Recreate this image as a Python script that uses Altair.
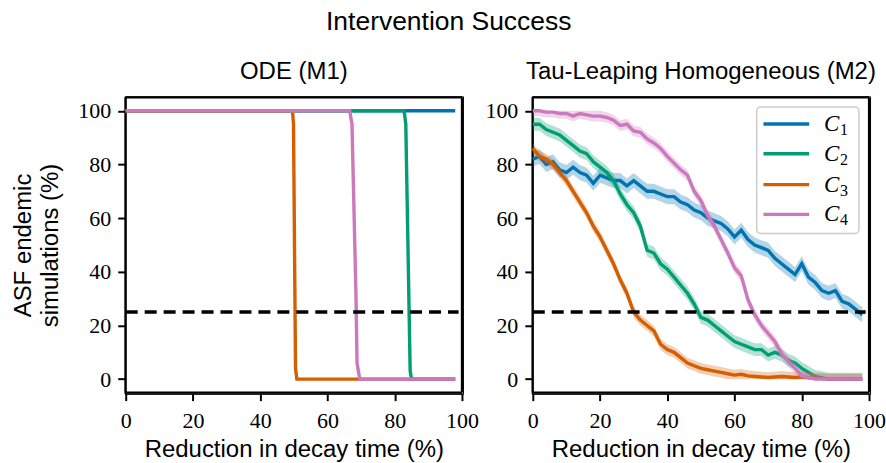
import altair as alt
import pandas as pd

# ---------------- data ----------------
SERIES = ["C₁", "C₂", "C₃", "C₄"]
SERIES_LETTER = ["C", "C", "C", "C"]
SERIES_SUB = ["1", "2", "3", "4"]
COLORS = ["#0173b2", "#029e73", "#d55e00", "#cc78bc"]

X_TICKS = [0, 20, 40, 60, 80, 100]
Y_TICKS = [0, 20, 40, 60, 80, 100]
THRESHOLD = 25

# ODE (M1): breakpoints of each curve
ODE_C1_X = [0, 98]
ODE_C1_Y = [100, 100]
ODE_C2_X = [0, 82.8, 83.3, 84.6, 85.0, 98]
ODE_C2_Y = [100, 100, 95, 3, 0, 0]
ODE_C3_X = [0, 49.6, 49.9, 50.5, 50.9, 98]
ODE_C3_Y = [100, 100, 95, 4, 0, 0]
ODE_C4_X = [0, 66.6, 67.3, 68.5, 68.8, 69.6, 98]
ODE_C4_Y = [100, 100, 95, 30, 6, 0, 0]

# Tau-Leaping Homogeneous (M2)
TAU_X = list(range(0, 99, 2))
TAU_C1 = [82, 83, 80, 81, 78, 77, 79, 77, 76, 73,
          76, 75, 74, 74, 72, 74, 72, 70, 70, 69,
          68, 68, 66, 65, 63, 62, 60, 59, 58, 56,
          53, 55.5, 52, 50, 49, 48, 45, 43, 41, 39,
          43, 38, 36, 33, 32, 33, 29, 28, 26, 24]
TAU_C2 = [95, 95, 93, 92, 91, 89, 87, 85, 84, 81,
          79, 77, 74, 69, 65, 62, 57, 48, 47, 43,
          41, 38, 35, 32, 28, 23, 22, 20, 18, 16,
          14, 13, 12, 11, 11, 9, 10, 9, 7, 6,
          4, 2.5, 1, 0.5, 0, 0, 0, 0, 0, 0]
TAU_C3 = [86, 83, 82, 80, 77, 74, 70, 66, 62, 57,
          53, 48, 43, 37, 32, 25, 22, 20, 18, 13,
          11, 10, 8, 6, 5, 4, 3.5, 3, 2.5, 2,
          1.5, 1.8, 1.2, 1, 0.8, 0.6, 0.8, 1, 0.8, 0.6,
          0.8, 0.5, 0.4, 0.2, 0, 0, 0, 0, 0, 0]
TAU_C4 = [100, 100, 99.5, 99.5, 99, 99, 98, 99, 98.5, 98,
          98, 97.5, 96.5, 94.5, 95, 92.5, 92, 89.5, 88, 86,
          83, 80.5, 78, 76, 70, 66.5, 61, 57, 52, 47,
          41.5, 38.5, 29.5, 24, 20, 17, 14, 9.5, 6.5, 4,
          1.2, 0.6, 0, 0, 0, 0, 0, 0, 0, 0]
BAND_HALF = [2.8, 2.4, 2.0, 2.0]   # half-width of the confidence band

# ---------------- layout constants (data coordinates) ----------------
X_DOMAIN = [-0.3, 100.3]
Y_DOMAIN = [-5.4, 105.4]
FRAME_X = [0, 100]
FRAME_Y = [-5, 105]
LEG_BOX_X = [66.6, 97.0]
LEG_BOX_Y = [54.3, 101.4]
LEG_ROW_Y = [95.1, 84.0, 72.5, 61.4]
LEG_LINE_X = [68.6, 82.2]
LEG_TEXT_X = 86.6

# ---------------- tables ----------------
ode_rows = []
for name, xs, ys in zip(SERIES, [ODE_C1_X, ODE_C2_X, ODE_C3_X, ODE_C4_X],
                        [ODE_C1_Y, ODE_C2_Y, ODE_C3_Y, ODE_C4_Y]):
    for x, y in zip(xs, ys):
        ode_rows.append({"series": name, "x": x, "y": y})
ode_df = pd.DataFrame(ode_rows)

tau_rows = []
for name, ys, h in zip(SERIES, [TAU_C1, TAU_C2, TAU_C3, TAU_C4], BAND_HALF):
    for x, y in zip(TAU_X, ys):
        tau_rows.append({"series": name, "x": x, "y": y,
                         "lo": max(y - h, 0), "hi": min(y + h, 100)})
tau_df = pd.DataFrame(tau_rows)

thr_df = pd.DataFrame({"x": [0], "x2": [99], "y": [THRESHOLD]})
# horizontal frame edges (top, bottom) and vertical ones (left, right)
hframe_df = pd.DataFrame({"fx": [FRAME_X[0]] * 2, "fx2": [FRAME_X[1]] * 2,
                          "fy": [FRAME_Y[1], FRAME_Y[0]]})
vframe_df = pd.DataFrame({"fx": [FRAME_X[0], FRAME_X[1]],
                          "fy": [FRAME_Y[0]] * 2, "fy2": [FRAME_Y[1]] * 2})
leg_box_df = pd.DataFrame({"x": [LEG_BOX_X[0]], "x2": [LEG_BOX_X[1]],
                           "y": [LEG_BOX_Y[0]], "y2": [LEG_BOX_Y[1]]})
leg_df = pd.DataFrame({"series": SERIES, "letter": SERIES_LETTER,
                       "sub": SERIES_SUB, "y": LEG_ROW_Y,
                       "x": [LEG_LINE_X[0]] * 4, "x2": [LEG_LINE_X[1]] * 4,
                       "tx": [LEG_TEXT_X] * 4})

# ---------------- styling ----------------
SANS = "Liberation Sans"
SERIF = "Liberation Serif"
LW = 3.4

x_scale = alt.Scale(domain=X_DOMAIN, nice=False, zero=False)
y_scale = alt.Scale(domain=Y_DOMAIN, nice=False, zero=False)
color_scale = alt.Scale(domain=SERIES, range=COLORS)

x_axis = alt.Axis(values=X_TICKS, title="Reduction in decay time (%)",
                  labelPadding=10, titlePadding=6)
y_axis_left = alt.Axis(values=Y_TICKS, title=["ASF endemic", "simulations (%)"],
                       labelPadding=7, titlePadding=15, titleLineHeight=27)
y_axis_right = alt.Axis(values=Y_TICKS, title=None, labelPadding=7)


def X(field):
    return alt.X(field, type="quantitative", scale=x_scale, axis=x_axis)


def Y(field, yaxis):
    return alt.Y(field, type="quantitative", scale=y_scale, axis=yaxis)


def thr_layer(yaxis):
    return alt.Chart(thr_df).mark_rule(
        color="black", strokeWidth=3.4, strokeDash=[12, 7]
    ).encode(x=X("x"), x2="x2:Q", y=Y("y", yaxis))


def frame_layers(yaxis):
    h = alt.Chart(hframe_df).mark_rule(color="black", strokeWidth=2.2).encode(
        x=X("fx"), x2="fx2:Q", y=Y("fy", yaxis))
    v = alt.Chart(vframe_df).mark_rule(color="black", strokeWidth=2.2).encode(
        x=X("fx"), y=Y("fy", yaxis), y2="fy2:Q")
    return [h, v]


def line_layer(df, name, yaxis):
    return alt.Chart(df).transform_filter(
        alt.datum.series == name
    ).mark_line(strokeWidth=LW).encode(
        x=X("x"), y=Y("y", yaxis),
        stroke=alt.Stroke("series:N", scale=color_scale, legend=None),
        order=alt.Order("x:Q"),
    )


def band_layer(name):
    return alt.Chart(tau_df).transform_filter(
        alt.datum.series == name
    ).mark_area(opacity=0.3).encode(
        x=X("x"), y=Y("lo", y_axis_right), y2="hi:Q",
        fill=alt.Fill("series:N", scale=color_scale, legend=None),
    )


def legend_layers():
    box = alt.Chart(leg_box_df).mark_rect(
        fill="white", fillOpacity=0.85, stroke="#cccccc", strokeWidth=1.5,
        cornerRadius=4
    ).encode(x=X("x"), x2="x2:Q", y=Y("y", y_axis_right), y2="y2:Q")
    lines = alt.Chart(leg_df).mark_rule(strokeWidth=LW).encode(
        x=X("x"), x2="x2:Q", y=Y("y", y_axis_right),
        stroke=alt.Stroke("series:N", scale=color_scale, legend=None),
    )
    letters = alt.Chart(leg_df).mark_text(
        font=SERIF, fontStyle="italic", fontSize=23, align="left",
        baseline="middle", color="black"
    ).encode(x=X("tx"), y=Y("y", y_axis_right), text="letter:N")
    subs = alt.Chart(leg_df).mark_text(
        font=SERIF, fontSize=16, align="left", baseline="middle",
        color="black", dx=16, dy=6
    ).encode(x=X("tx"), y=Y("y", y_axis_right), text="sub:N")
    return [box, lines, letters, subs]


# left panel
left = alt.layer(
    *frame_layers(y_axis_left),
    *[line_layer(ode_df, s, y_axis_left) for s in SERIES],
    thr_layer(y_axis_left),
).properties(
    width=339, height=298,
    title=alt.TitleParams("ODE (M1)", font=SANS, fontSize=24,
                          fontWeight="normal", color="black", offset=12),
)

# right panel
right_layers = []
for s in SERIES:
    right_layers.append(band_layer(s))
    right_layers.append(line_layer(tau_df, s, y_axis_right))
right = alt.layer(
    *frame_layers(y_axis_right), *right_layers, thr_layer(y_axis_right),
    *legend_layers(),
).properties(
    width=339, height=298,
    title=alt.TitleParams("Tau-Leaping Homogeneous (M2)", font=SANS,
                          fontSize=24, fontWeight="normal", color="black",
                          offset=12),
)

chart = alt.hconcat(left, right, spacing=5).resolve_scale(
    stroke="independent", fill="independent"
).properties(
    title=alt.TitleParams("Intervention Success", font=SANS, fontSize=26.5,
                          fontWeight="normal", color="black", anchor="middle",
                          offset=24),
    padding={"left": 11, "top": 8, "right": 0, "bottom": 0},
).configure(
    font=SANS
).configure_view(
    stroke="black", strokeWidth=1
).configure_axis(
    grid=False, domain=True, domainColor="black", domainWidth=1,
    ticks=True, tickSize=7, tickWidth=2, tickColor="black",
    labelFont=SERIF, labelFontSize=22, labelColor="black", labelFlush=False,
    titleFont=SANS, titleFontSize=24, titleFontWeight="normal",
    titleColor="black",
)

chart.save("out.html", embed_options={"renderer": "svg", "actions": False})
